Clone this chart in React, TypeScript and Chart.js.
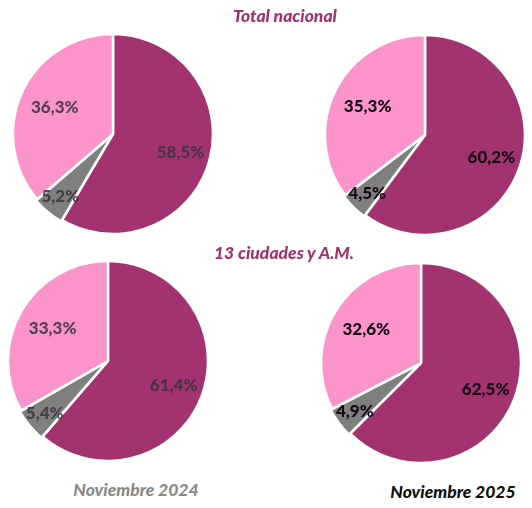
import React, { useEffect, useRef } from "react";
import { Chart, registerables } from "chart.js";

Chart.register(...registerables);

const categories = ["Ocupados", "Desocupados", "Inactivos"];
const total2024 = [58.5, 5.2, 36.3];
const total2025 = [60.2, 4.5, 35.3];
const ciudades2024 = [61.4, 5.4, 33.3];
const ciudades2025 = [62.5, 4.9, 32.6];
const sectionTitles = ["Total nacional", "13 ciudades y A.M."];
const periodLabels = ["Noviembre 2024", "Noviembre 2025"];

const COLORS = ["#A3336F", "#7F7F7F", "#FA94C9"];
const LABEL_R = [0.7, 0.82, 0.64];

function fmt(v: number) {
  return v.toFixed(1).replace(".", ",") + "%";
}

const labelPlugin = {
  id: "pieLabels",
  afterDatasetsDraw(chart: any, _args: any, opts: any) {
    const ctx = chart.ctx;
    const meta = chart.getDatasetMeta(0);
    const data = chart.data.datasets[0].data as number[];
    ctx.save();
    ctx.font = "900 17px Lato, 'Open Sans', sans-serif";
    ctx.fillStyle = opts.color;
    ctx.textAlign = "center";
    ctx.textBaseline = "middle";
    meta.data.forEach((arc: any, i: number) => {
      const p = arc.getProps(["x", "y", "startAngle", "endAngle", "outerRadius"], true);
      const mid = (p.startAngle + p.endAngle) / 2;
      const r = p.outerRadius * LABEL_R[i];
      ctx.fillText(fmt(data[i]), p.x + Math.cos(mid) * r, p.y + Math.sin(mid) * r);
    });
    ctx.restore();
  },
};

function Pie({ values, left, top, labelColor }: { values: number[]; left: number; top: number; labelColor: string }) {
  const ref = useRef<HTMLCanvasElement | null>(null);
  useEffect(() => {
    if (!ref.current) return;
    const chart = new Chart(ref.current, {
      type: "pie",
      data: {
        labels: categories,
        datasets: [
          {
            data: values,
            backgroundColor: COLORS,
            borderColor: "#ffffff",
            borderWidth: 2.5,
            offset: [0, 4, 0],
          },
        ],
      },
      options: {
        animation: false,
        responsive: false,
        radius: 100,
        layout: { padding: 0 },
        plugins: {
          legend: { display: false },
          tooltip: { enabled: false },
          pieLabels: { color: labelColor },
        } as any,
      },
      plugins: [labelPlugin],
    });
    return () => chart.destroy();
  }, [values, labelColor]);
  return (
    <canvas
      ref={ref}
      width={220}
      height={220}
      style={{ position: "absolute", left, top, width: 220, height: 220 }}
    />
  );
}

const titleStyle: React.CSSProperties = {
  position: "absolute",
  fontFamily: "Lato, 'Open Sans', sans-serif",
  fontWeight: 900,
  fontStyle: "italic",
  fontSize: 17.5,
  whiteSpace: "nowrap",
  transform: "translate(-50%, -50%)",
  lineHeight: 1,
};

export default function App() {
  return (
    <div
      style={{
        position: "absolute",
        left: 0,
        top: 0,
        width: 532,
        height: 508,
        background: "#ffffff",
        overflow: "hidden",
      }}
    >
      <Pie values={total2024} left={3} top={24} labelColor="rgba(60,52,62,0.88)" />
      <Pie values={total2025} left={315} top={25} labelColor="#140a14" />
      <Pie values={ciudades2024} left={-2} top={251} labelColor="rgba(60,52,62,0.88)" />
      <Pie values={ciudades2025} left={311} top={253} labelColor="#140a14" />
      <div style={{ ...titleStyle, left: 285, top: 16, color: "#A3336F" }}>{sectionTitles[0]}</div>
      <div style={{ ...titleStyle, left: 284, top: 253, color: "#A3336F" }}>{sectionTitles[1]}</div>
      <div style={{ ...titleStyle, left: 136, top: 490, color: "#8A8A8A" }}>{periodLabels[0]}</div>
      <div style={{ ...titleStyle, left: 453, top: 492, color: "#111111" }}>{periodLabels[1]}</div>
    </div>
  );
}
